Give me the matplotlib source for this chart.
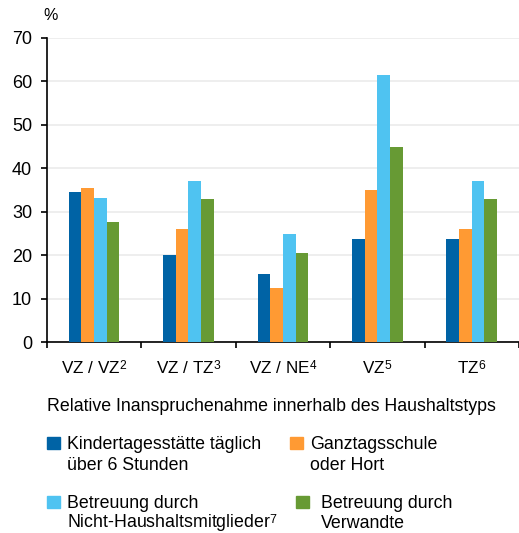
import numpy as np
import matplotlib
matplotlib.use('Agg')
import matplotlib.pyplot as plt
from matplotlib.patches import Rectangle
from matplotlib import _mathtext

plt.rcParams['font.family'] = ['Liberation Sans', 'DejaVu Sans']
plt.rcParams['mathtext.fontset'] = 'custom'
plt.rcParams['mathtext.rm'] = 'Liberation Sans'
# Hochzahlen etwas tiefer setzen
_mathtext.FontConstantsBase.sup1 = 0.4

# Daten
haushaltstypen = ['VZ / VZ$^2$', 'VZ / TZ$^3$', 'VZ / NE$^4$', 'VZ$^5$', 'TZ$^6$']
kita = [34.5, 20.0, 15.6, 23.7, 23.7]
ganztag = [35.5, 26.0, 12.5, 34.9, 26.0]
nicht_haushalt = [33.1, 37.0, 24.9, 61.4, 37.0]
verwandte = [27.6, 32.9, 20.4, 44.9, 32.9]

reihen = [kita, ganztag, nicht_haushalt, verwandte]
farben = ['#0063a5', '#ff9a33', '#4fc3f1', '#679a34']
legende = ['Kindertagesstätte täglich\nüber 6 Stunden',
           'Ganztagsschule\noder Hort',
           'Betreuung durch\nNicht-Haushaltsmitglieder$^7$',
           'Betreuung durch\nVerwandte']

W, H = 519, 533
fig = plt.figure(figsize=(W / 100, H / 100), dpi=100)
ax = fig.add_axes([0.090, 0.358, 0.910, 0.571])

x = np.arange(len(haushaltstypen))
b = 0.134
for i, (werte, farbe) in enumerate(zip(reihen, farben)):
    ax.bar(x + (i - 1.5) * b, werte, b, color=farbe, zorder=3)

ax.set_xlim(-0.5, len(haushaltstypen) - 0.5)
ax.set_ylim(0, 70)
ax.set_yticks(range(0, 71, 10))
ax.tick_params(axis='y', labelsize=13, length=4.5, width=1.2, direction='out', pad=6)
ax.set_xticks(x)
ax.set_xticklabels(haushaltstypen, fontsize=12.3)
ax.tick_params(axis='x', which='major', length=0, pad=12)
ax.set_xticks(np.arange(-0.5, len(haushaltstypen)), minor=True)
ax.tick_params(axis='x', which='minor', length=4, width=1.2, direction='out')
ax.grid(axis='y', color='#ebebeb', linewidth=1.2, zorder=0)
for s in ['top', 'right']:
    ax.spines[s].set_visible(False)
for s in ['left', 'bottom']:
    ax.spines[s].set_linewidth(1.2)
fig.text(43 / W, 1 - 16 / H, '%', fontsize=11.5, va='center')

fig.text(47 / W, 1 - 411 / H, 'Relative Inanspruchenahme innerhalb des Haushaltstyps',
         fontsize=12.8, va='baseline')

# Legende von Hand: Quadrat links, Text zeilenweise auf Grundlinie
pos = [(47, 437, 67, 449), (290, 437, 310, 449), (47, 496, 67, 508), (296, 496, 321, 508)]
for (qx, qy, tx, ty), farbe, txt in zip(pos, farben, legende):
    fig.add_artist(Rectangle((qx / W, 1 - (qy + 12) / H), 13 / W, 12 / H,
                             transform=fig.transFigure, color=farbe))
    for k, zeile in enumerate(txt.split('\n')):
        fig.text(tx / W, 1 - (ty + 20.5 * k) / H, zeile, fontsize=12.8, va='baseline')

fig.savefig('out.png', dpi=100)
